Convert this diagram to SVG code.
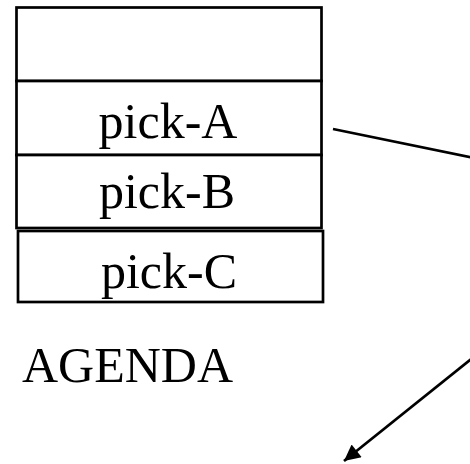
<svg xmlns="http://www.w3.org/2000/svg" width="470" height="464" viewBox="0 0 470 464">
  <style>
    .slot { fill: #ffffff; stroke: #000000; stroke-width: 2.7; }
    .label { font-family: "Liberation Serif", "Times New Roman", serif; font-size: 50px; fill: #000000; }
    .link { fill: none; stroke: #000000; stroke-width: 2.7; }
  </style>
  <defs>
    <marker id="arrow" viewBox="0 0 10 10" refX="10" refY="5" markerWidth="7" markerHeight="6" markerUnits="strokeWidth" orient="auto">
      <path d="M0,0 L10,5 L0,10 Z" fill="#000000"/>
    </marker>
  </defs>
  <rect width="470" height="464" fill="#ffffff"/>

  <!-- agenda stack -->
  <g id="slot-empty">
    <rect class="slot" x="16.5" y="7.5" width="305" height="73.5"/>
  </g>
  <g id="pick-A">
    <rect class="slot" x="16.5" y="81" width="305" height="74"/>
    <text class="label" x="168" y="138" text-anchor="middle">pick-A</text>
  </g>
  <g id="pick-B">
    <rect class="slot" x="16.5" y="155" width="305" height="73"/>
    <text class="label" x="167" y="208" text-anchor="middle">pick-B</text>
  </g>
  <g id="pick-C">
    <rect class="slot" x="18" y="231" width="305" height="71"/>
    <text class="label" x="169" y="288" text-anchor="middle">pick-C</text>
  </g>
  <g id="agenda-title">
    <text class="label" x="22" y="382">AGENDA</text>
  </g>

  <!-- connectors -->
  <g id="connectors">
    <line class="link" x1="333" y1="129" x2="472" y2="157.5"/>
    <line class="link" x1="472" y1="358.5" x2="344" y2="461" marker-end="url(#arrow)"/>
  </g>
</svg>
